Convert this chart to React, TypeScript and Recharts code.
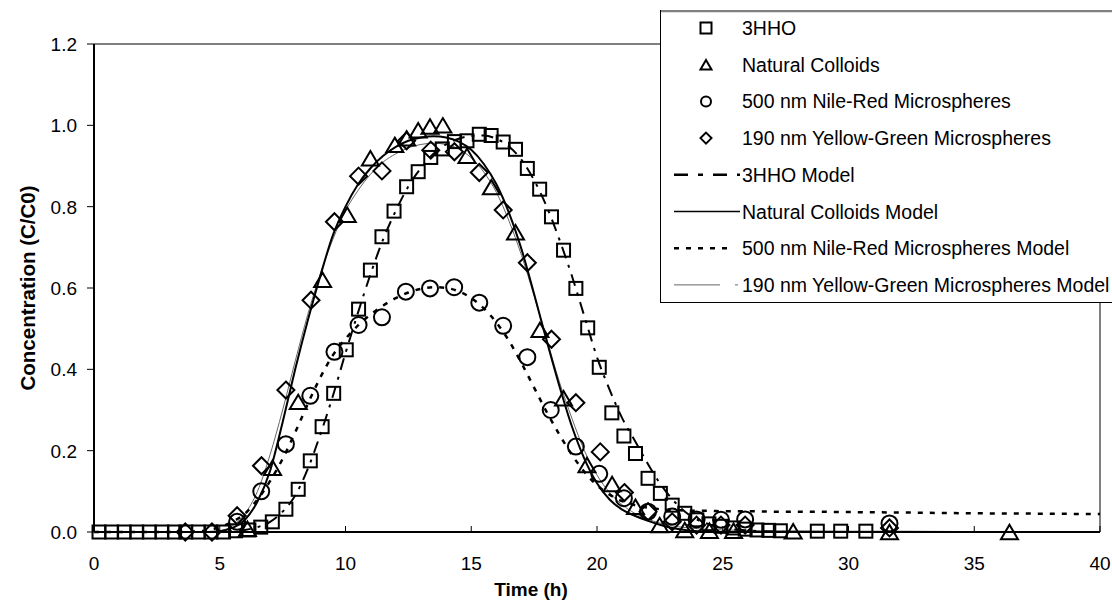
import React from 'react';
import { ComposedChart, Line, Scatter, XAxis, YAxis, ReferenceLine, Legend } from 'recharts';

const FONT = '"Liberation Sans", Arial, Helvetica, sans-serif';

// Measured breakthrough data: [time (h), C/C0]
const hho3Data: [number, number][] = [
  [0.2, 0], [0.7, 0], [1.2, 0], [1.7, 0], [2.2, 0], [2.7, 0], [3.2, 0], [3.65, 0], [4.15, 0], [4.65, 0],
  [5.15, 0], [5.63, 0.003], [6.16, 0.005], [6.63, 0.012], [7.09, 0.025], [7.63, 0.056], [8.12, 0.105],
  [8.6, 0.175], [9.07, 0.259], [9.53, 0.341], [10.03, 0.448], [10.52, 0.548], [10.99, 0.644], [11.45, 0.726],
  [11.93, 0.789], [12.43, 0.849], [12.89, 0.886], [13.39, 0.921], [13.85, 0.942], [14.33, 0.96], [14.83, 0.962],
  [15.32, 0.978], [15.79, 0.975], [16.27, 0.959], [16.76, 0.941], [17.23, 0.894], [17.72, 0.843], [18.19, 0.775],
  [18.67, 0.693], [19.16, 0.599], [19.63, 0.502], [20.09, 0.405], [20.59, 0.293], [21.07, 0.236], [21.53, 0.193],
  [22.03, 0.132], [22.52, 0.095], [22.99, 0.066], [23.49, 0.046], [23.97, 0.03], [24.45, 0.02], [24.93, 0.014],
  [25.41, 0.01], [25.89, 0.007], [26.36, 0.005], [26.83, 0.004], [27.29, 0.003], [28.76, 0.002], [29.69, 0.002],
  [30.69, 0.002],
];

const colloidData: [number, number][] = [
  [6.1, 0.008], [7.1, 0.158], [8.12, 0.32], [9.09, 0.62], [10.07, 0.78], [10.99, 0.919], [11.96, 0.952],
  [12.43, 0.968], [12.89, 0.988], [13.36, 0.997], [13.87, 1.0], [14.83, 0.925], [15.8, 0.848], [16.76, 0.737],
  [17.73, 0.497], [18.67, 0.329], [19.6, 0.165], [20.6, 0.118], [21.53, 0.062], [22.49, 0.017], [23.49, 0.005],
  [24.47, 0.003], [25.43, 0.003], [27.8, 0.002], [31.63, 0], [36.4, 0],
];

const nileRedData: [number, number][] = [
  [5.69, 0.025], [6.65, 0.1], [7.63, 0.216], [8.6, 0.335], [9.56, 0.443], [10.52, 0.509], [11.45, 0.528],
  [12.4, 0.591], [13.36, 0.599], [14.32, 0.602], [15.32, 0.564], [16.27, 0.507], [17.23, 0.43], [18.16, 0.3],
  [19.16, 0.21], [20.09, 0.143], [21.07, 0.083], [22.03, 0.05], [22.99, 0.038], [23.96, 0.031], [24.93, 0.03],
  [25.89, 0.031], [31.63, 0.021],
];

const yellowGreenData: [number, number][] = [
  [3.63, 0], [4.69, 0], [5.69, 0.04], [6.66, 0.163], [7.63, 0.349], [8.63, 0.57], [9.56, 0.763], [10.52, 0.875],
  [11.45, 0.888], [12.43, 0.962], [13.39, 0.939], [14.33, 0.935], [15.32, 0.884], [16.27, 0.792], [17.23, 0.662],
  [18.19, 0.474], [19.16, 0.318], [20.13, 0.197], [21.09, 0.097], [22.03, 0.05], [22.99, 0.025], [23.96, 0.017],
  [24.93, 0.017], [25.89, 0.017], [31.63, 0.01],
];

// Model curves on a shared time grid
const modelTimes = [
  0, 1, 2, 3, 4, 4.5, 5, 5.5, 6, 6.5, 7, 7.5, 8, 8.5, 9, 9.5, 10, 10.5, 11, 11.5, 12, 12.5, 13, 13.5, 14, 14.5,
  15, 15.5, 16, 16.5, 17, 17.5, 18, 18.5, 19, 19.5, 20, 20.5, 21, 21.5, 22, 22.5, 23, 23.5, 24, 24.5, 25,
  26, 27, 28, 30, 32, 35, 38, 40,
];
const hho3Model = [
  0, 0, 0, 0, 0, 0, 0, 0.002, 0.005, 0.012, 0.025, 0.05, 0.09, 0.155, 0.24, 0.335, 0.44, 0.54, 0.635, 0.72,
  0.79, 0.85, 0.895, 0.93, 0.953, 0.967, 0.974, 0.975, 0.967, 0.948, 0.915, 0.865, 0.8, 0.72, 0.63, 0.53,
  0.43, 0.35, 0.28, 0.225, 0.17, 0.12, 0.08, 0.05, 0.03, 0.018, 0.01,
  0.004, 0.001, 0, 0, 0, 0, 0, 0,
];
const colloidModel = [
  0, 0, 0, 0, 0, 0, 0.002, 0.01, 0.03, 0.075, 0.15, 0.27, 0.4, 0.52, 0.63, 0.73, 0.8, 0.855, 0.895, 0.925,
  0.947, 0.962, 0.97, 0.973, 0.97, 0.96, 0.94, 0.905, 0.855, 0.785, 0.695, 0.585, 0.47, 0.36, 0.26, 0.18,
  0.12, 0.08, 0.055, 0.04, 0.028, 0.018, 0.01, 0.005, 0.002, 0.001, 0,
  0, 0, 0, 0, 0, 0, 0, 0,
];
const nileRedModel = [
  0, 0, 0, 0, 0.001, 0.004, 0.012, 0.025, 0.045, 0.08, 0.125, 0.18, 0.245, 0.315, 0.38, 0.435, 0.475, 0.508,
  0.535, 0.557, 0.575, 0.589, 0.598, 0.602, 0.6, 0.592, 0.575, 0.55, 0.515, 0.47, 0.415, 0.355, 0.295, 0.24,
  0.19, 0.148, 0.115, 0.092, 0.076, 0.066, 0.06, 0.056, 0.054, 0.053, 0.052, 0.052, 0.051,
  0.051, 0.05, 0.05, 0.049, 0.048, 0.046, 0.045, 0.044,
];
const yellowGreenModel = [
  0, 0, 0, 0, 0, 0, 0.003, 0.015, 0.045, 0.1, 0.19, 0.3, 0.42, 0.535, 0.635, 0.72, 0.79, 0.84, 0.88, 0.91,
  0.93, 0.945, 0.953, 0.956, 0.953, 0.942, 0.92, 0.885, 0.835, 0.765, 0.68, 0.58, 0.475, 0.37, 0.28, 0.2,
  0.14, 0.097, 0.067, 0.046, 0.032, 0.022, 0.015, 0.011, 0.008, 0.006, 0.005,
  0.004, 0.003, 0.003, 0.002, 0.002, 0.001, 0.001, 0.001,
];

const xTicks = [0, 5, 10, 15, 20, 25, 30, 35, 40];
const yTicks = [0, 0.2, 0.4, 0.6, 0.8, 1.0, 1.2];

const legendLabels = [
  '3HHO',
  'Natural Colloids',
  '500 nm Nile-Red Microspheres',
  '190 nm Yellow-Green Microspheres',
  '3HHO Model',
  'Natural Colloids Model',
  '500 nm Nile-Red Microspheres Model',
  '190 nm Yellow-Green Microspheres Model',
];

const toPoints = (rows: [number, number][]) => rows.map(([x, y]) => ({ x, y }));
const toModel = (vals: number[]) => modelTimes.map((x, i) => ({ x, y: vals[i] }));

// marker shapes (hollow, black)
const Square = ({ cx, cy, s = 13, w = 2 }: any) => (
  <rect x={cx - s / 2} y={cy - s / 2} width={s} height={s} fill="none" stroke="#000" strokeWidth={w} />
);
const Triangle = ({ cx, cy, s = 17, w = 2 }: any) => {
  const h = s * 0.85;
  return (
    <path
      d={`M${cx},${cy - h / 2} L${cx + s / 2},${cy + h / 2} L${cx - s / 2},${cy + h / 2} Z`}
      fill="none"
      stroke="#000"
      strokeWidth={w}
    />
  );
};
const Circle = ({ cx, cy, s = 16, w = 2 }: any) => (
  <circle cx={cx} cy={cy} r={s / 2} fill="none" stroke="#000" strokeWidth={w} />
);
const Diamond = ({ cx, cy, s = 17, w = 2 }: any) => (
  <path
    d={`M${cx},${cy - s / 2} L${cx + s / 2},${cy} L${cx},${cy + s / 2} L${cx - s / 2},${cy} Z`}
    fill="none"
    stroke="#000"
    strokeWidth={w}
  />
);

const XTick = ({ x, y, payload }: any) => (
  <g>
    <line x1={x} x2={x} y1={y} y2={y - 6} stroke="#000" strokeWidth={1} />
    <text x={x} y={y + 38} textAnchor="middle" fontSize={19} fontFamily={FONT} fill="#000">
      {payload.value}
    </text>
  </g>
);

const YTick = ({ x, y, payload }: any) => (
  <g>
    <line x1={x - 7} x2={x} y1={y} y2={y} stroke="#000" strokeWidth={1} />
    <text x={x - 17} y={y} dy="0.36em" textAnchor="end" fontSize={19} fontFamily={FONT} fill="#000">
      {Number(payload.value).toFixed(1)}
    </text>
  </g>
);

const XTitle = () => (
  <text x={531} y={596} textAnchor="middle" fontSize={19} fontWeight="bold" fontFamily={FONT} fill="#000">
    Time (h)
  </text>
);

const YTitle = () => (
  <text
    transform="translate(28,288) rotate(-90)"
    textAnchor="middle"
    dy="0.36em"
    fontSize={20.5}
    fontWeight="bold"
    fontFamily={FONT}
    fill="#000"
  >
    Concentration (C/C0)
  </text>
);

const renderLegend = () => {
  const rowY = (i: number) => 18 + i * 36.7;
  const markers = [Square, Triangle, Circle, Diamond];
  return (
    <div style={{ width: 460, height: 293, background: '#fff' }}>
      <svg width={460} height={293} style={{ display: 'block' }}>
        <line x1={0} x2={460} y1={1} y2={1} stroke="#808080" strokeWidth={2.5} />
        <line x1={0.5} x2={0.5} y1={0} y2={293} stroke="#000" strokeWidth={1} />
        <line x1={0} x2={460} y1={292.5} y2={292.5} stroke="#000" strokeWidth={1} />
        {markers.map((M, i) => (
          <M key={i} cx={46} cy={rowY(i)} s={i === 2 ? 10 : 11} w={2} />
        ))}
        <line x1={14} x2={80} y1={rowY(4)} y2={rowY(4)} stroke="#000" strokeWidth={2.5} strokeDasharray="14 10 5 10" />
        <line x1={14} x2={80} y1={rowY(5)} y2={rowY(5)} stroke="#000" strokeWidth={1.5} />
        <line x1={14} x2={70} y1={rowY(6)} y2={rowY(6)} stroke="#000" strokeWidth={2.5} strokeDasharray="5 7" />
        <line x1={14} x2={78} y1={rowY(7)} y2={rowY(7)} stroke="#666" strokeWidth={1} strokeDasharray="46 15 3 10" />
        {legendLabels.map((t, i) => (
          <text key={t} x={82} y={rowY(i)} dy="0.36em" fontSize={19.5} fontFamily={FONT} fill="#000">
            {t}
          </text>
        ))}
      </svg>
    </div>
  );
};

const App: React.FC = () => {
  return (
    <div style={{ position: 'absolute', left: 0, top: 0, width: 1112, height: 615, overflow: 'hidden', background: '#fff' }}>
      <ComposedChart width={1112} height={615} margin={{ top: 44, right: 12, bottom: 0, left: 0 }}>
        <XAxis
          type="number"
          dataKey="x"
          domain={[0, 40]}
          ticks={xTicks}
          interval={0}
          height={83}
          tickSize={0}
          tickMargin={0}
          tickLine={false}
          axisLine={{ stroke: '#000', strokeWidth: 2 }}
          tick={<XTick />}
          label={<XTitle />}
        />
        <YAxis
          type="number"
          dataKey="y"
          domain={[0, 1.2]}
          ticks={yTicks}
          interval={0}
          width={94}
          tickSize={0}
          tickMargin={0}
          tickLine={false}
          axisLine={{ stroke: '#000', strokeWidth: 2 }}
          tick={<YTick />}
          label={<YTitle />}
        />
        <ReferenceLine y={1.2} stroke="#000" strokeWidth={1} />
        <ReferenceLine x={40} stroke="#000" strokeWidth={1} />

        <Line data={toModel(yellowGreenModel)} dataKey="y" type="monotone" stroke="#666" strokeWidth={1} dot={false} activeDot={false} isAnimationActive={false} />
        <Line data={toModel(colloidModel)} dataKey="y" type="monotone" stroke="#000" strokeWidth={2} dot={false} activeDot={false} isAnimationActive={false} />
        <Line data={toModel(nileRedModel)} dataKey="y" type="monotone" stroke="#000" strokeWidth={2.5} strokeDasharray="5 7" dot={false} activeDot={false} isAnimationActive={false} />
        <Line data={toModel(hho3Model)} dataKey="y" type="monotone" stroke="#000" strokeWidth={2} strokeDasharray="12 7 3 7" dot={false} activeDot={false} isAnimationActive={false} />

        <Scatter data={toPoints(hho3Data)} dataKey="y" shape={(p: any) => <Square cx={p.cx} cy={p.cy} />} isAnimationActive={false} />
        <Scatter data={toPoints(colloidData)} dataKey="y" shape={(p: any) => <Triangle cx={p.cx} cy={p.cy} />} isAnimationActive={false} />
        <Scatter data={toPoints(nileRedData)} dataKey="y" shape={(p: any) => <Circle cx={p.cx} cy={p.cy} />} isAnimationActive={false} />
        <Scatter data={toPoints(yellowGreenData)} dataKey="y" shape={(p: any) => <Diamond cx={p.cx} cy={p.cy} />} isAnimationActive={false} />

        <Legend
          content={renderLegend}
          layout="vertical"
          align="center"
          verticalAlign="middle"
          wrapperStyle={{ position: 'absolute', left: 660, top: 10, width: 460, height: 293 }}
        />
      </ComposedChart>
    </div>
  );
};

export default App;
